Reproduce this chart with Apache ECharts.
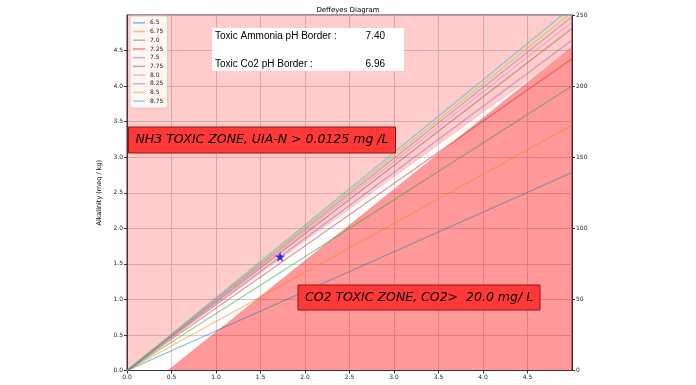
<!DOCTYPE html>
<html><head><meta charset="utf-8">
<script src="https://cdn.jsdelivr.net/npm/echarts@6/dist/echarts.min.js"></script>
<style>html,body{margin:0;padding:0;background:#fff}#c{width:696px;height:385px}</style>
</head><body><div id="c"></div>
<script>
// ---- data ----
const phLabels = ['6.5','6.75','7.0','7.25','7.5','7.75','8.0','8.25','8.5','8.75'];
const lineStartX = 0, lineStartY = 0, lineEndX = 5;
const alkAtEnd = [2.785, 3.45, 4.00, 4.385, 4.645, 4.81, 4.90, 4.975, 5.04, 5.11];
const lineColors = ['#1f77b4','#ff7f0e','#2ca02c','#d62728','#9467bd','#8c564b','#e377c2','#7f7f7f','#bcbd22','#17becf'];
const nh3Border = [[0,0],[4.57,4.14],[5,4.56]];
const co2Border = [[0.455,0],[5,4.56]];
const samplePoint = [[1.72,1.60]];
const ammoniaPh = '7.40';
const co2Ph = '6.96';
const nh3Label = 'NH3 TOXIC ZONE, UIA-N > 0.0125 mg /L';
const co2Label = 'CO2 TOXIC ZONE, CO2>  20.0 mg/ L';
const xRange = [0, 5], yRange = [0, 5], y2Range = [0, 250];

function rgba(hex, a){
  const n = parseInt(hex.slice(1),16);
  return 'rgba(' + (n>>16) + ',' + ((n>>8)&255) + ',' + (n&255) + ',' + a + ')';
}
const chart = echarts.init(document.getElementById('c'));
const tickFont = {fontSize:6, color:'#222', fontFamily:'DejaVu Sans'};
const axisLineStyle = {color:'#333', width:1};
const gridLine = {show:true, lineStyle:{color:'#c4c4c4', width:0.8}};

const pinkPoly = [[xRange[0], yRange[1]]].concat(nh3Border).concat([[xRange[1], yRange[1]]]);
const darkPoly = co2Border.concat([[xRange[1], yRange[0]]]);
function polySeries(poly, fill, z){
  return {type:'custom', silent:true, z:z, data:[[0,0]], clip:true,
    renderItem:function(params, api){
      return {type:'polygon', shape:{points:poly.map(p=>api.coord(p))}, style:{fill:fill}};
    }};
}
const series = [polySeries(pinkPoly,'rgba(255,0,0,0.2)',1), polySeries(darkPoly,'rgba(255,0,0,0.4)',1)];
phLabels.forEach((name,i)=>{
  series.push({type:'line', name:name, symbol:'none', z:3, clip:true,
    data:[[lineStartX,lineStartY],[lineEndX,alkAtEnd[i]]],
    itemStyle:{color:rgba(lineColors[i],0.5)},
    lineStyle:{color:rgba(lineColors[i],0.5), width:1.2}});
});
series.push({type:'scatter', data:samplePoint, z:5, symbolSize:10,
  symbol:'path://M0,-1L0.2245,-0.309L0.951,-0.309L0.363,0.118L0.588,0.809L0,0.382L-0.588,0.809L-0.363,0.118L-0.951,-0.309L-0.2245,-0.309Z',
  itemStyle:{color:'#0000ff'}});

chart.setOption({
  animation:false,
  backgroundColor:'#fff',
  title:{text:'Deffeyes Diagram', left:'center', top:2, textStyle:{fontSize:7, fontWeight:'normal', color:'#000', fontFamily:'DejaVu Sans'}},
  grid:{left:127, right:124, top:15, bottom:14.5, show:true, borderColor:'#333', borderWidth:1},
  legend:{orient:'vertical', left:130, top:16, icon:'rect', itemWidth:12, itemHeight:1.5, itemGap:1,
    padding:[3,4,3,3], backgroundColor:'rgba(255,255,255,0.8)', borderColor:'#ccc', borderWidth:0.8, borderRadius:2,
    textStyle:{fontSize:6, lineHeight:7.7, color:'#222', fontFamily:'DejaVu Sans'}, data:phLabels},
  xAxis:{type:'value', min:xRange[0], max:xRange[1], interval:0.5,
    axisLine:{lineStyle:axisLineStyle}, axisTick:{length:3, lineStyle:axisLineStyle},
    axisLabel:Object.assign({showMaxLabel:false, margin:4, formatter:v=>v.toFixed(1)}, tickFont),
    splitLine:gridLine},
  yAxis:[
    {type:'value', min:yRange[0], max:yRange[1], interval:0.5, position:'left',
     name:'Alkalinity (meq / kg)', nameLocation:'middle', nameGap:20,
     nameTextStyle:{fontSize:6.5, color:'#000', fontFamily:'DejaVu Sans'},
     axisLine:{show:true, lineStyle:axisLineStyle}, axisTick:{show:true, length:3, lineStyle:axisLineStyle},
     axisLabel:Object.assign({showMaxLabel:false, margin:4, formatter:v=>v.toFixed(1)}, tickFont),
     splitLine:gridLine},
    {type:'value', min:y2Range[0], max:y2Range[1], interval:50, position:'right',
     axisLine:{show:true, lineStyle:axisLineStyle}, axisTick:{show:true, length:3, lineStyle:axisLineStyle},
     axisLabel:Object.assign({margin:4}, tickFont), splitLine:{show:false}}
  ],
  series:series,
  graphic:[
    {type:'rect', z:10, shape:{x:212, y:28, width:192, height:43}, style:{fill:'#fff'}},
    {type:'text', z:11, style:{x:215, y:36, text:'Toxic Ammonia pH Border :', font:'10px "Liberation Sans"', fill:'#000', textVerticalAlign:'middle'}},
    {type:'text', z:11, style:{x:385, y:36, text:ammoniaPh, font:'10px "Liberation Sans"', fill:'#000', textAlign:'right', textVerticalAlign:'middle'}},
    {type:'text', z:11, style:{x:215, y:64, text:'Toxic Co2 pH Border :', font:'10px "Liberation Sans"', fill:'#000', textVerticalAlign:'middle'}},
    {type:'text', z:11, style:{x:385, y:64, text:co2Ph, font:'10px "Liberation Sans"', fill:'#000', textAlign:'right', textVerticalAlign:'middle'}},
    {type:'rect', z:10, shape:{x:128.5, y:127, width:267, height:26}, style:{fill:'#ff3838', stroke:'#a01010', lineWidth:1}},
    {type:'text', z:11, style:{x:262, y:140, text:nh3Label, font:'italic 12.5px "DejaVu Sans"', fill:'#000', textAlign:'center', textVerticalAlign:'middle'}},
    {type:'rect', z:10, shape:{x:298, y:285, width:242, height:25}, style:{fill:'#ff3838', stroke:'#a01010', lineWidth:1}},
    {type:'text', z:11, style:{x:419, y:298, text:co2Label, font:'italic 12.5px "DejaVu Sans"', fill:'#000', textAlign:'center', textVerticalAlign:'middle'}}
  ]
});
</script></body></html>
